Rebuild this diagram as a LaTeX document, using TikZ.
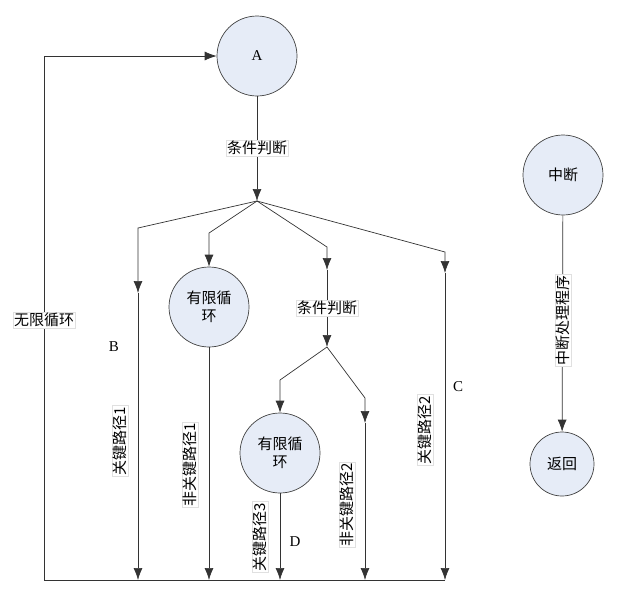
\documentclass[tikz,border=0pt]{standalone}
\usepackage{fontspec}
\setmainfont{Liberation Serif}
\newfontfamily\cjk{Noto Sans CJK SC}
\usepackage{xcolor}
\usetikzlibrary{arrows.meta}
\definecolor{cfill}{HTML}{E6ECF7}
\tikzset{
    CC1/.style ={circle,minimum size = 80pt, inner sep=0pt, draw=black!75, fill=cfill, align=center},
    CC2/.style ={circle,minimum size = 64pt, inner sep=0pt, draw=black!75, fill=cfill},
    LB1/.style ={rectangle, fill=white, draw=black!12, inner sep=1pt},
    LB2/.style ={LB1, rotate=90},
    AR1/.style ={-{Latex[length=12pt,width=9pt]}}
}
\begin{document}
\begin{tikzpicture}
        [x=1pt,y=-1pt,line width=0.7pt,draw=black!80,
        every node/.style={font=\cjk\fontsize{15}{18}\selectfont}]
        \useasboundingbox (0,0) rectangle (620,600);
        % nodes
        \node[CC1] (A) at (257,56) {\rmfamily A};
        \node[CC1] (L1) at (209,307) {有限循\\环};
        \node[CC1] (L2) at (280,453) {有限循\\环};
        \node[CC1] (IR) at (563,175) {中断};
        \node[CC2] (RT) at (562,464) {返回};
        % split points and bends
        \coordinate (s1) at (257,201);
        \coordinate (s2) at (327,347);
        \coordinate (bB) at (138,228);
        \coordinate (mB) at (138,293);
        \coordinate (b1) at (209,233);
        \coordinate (b3) at (327,247);
        \coordinate (m3) at (327,270);
        \coordinate (bC) at (445,252);
        \coordinate (mC) at (445,273);
        \coordinate (b2) at (280,380);
        \coordinate (b4) at (365,398);
        \coordinate (m4) at (365,423);
        % bottom ends
        \coordinate (eL) at (44,580);
        \coordinate (eB) at (138,580);
        \coordinate (e1) at (209,580);
        \coordinate (e2) at (280,580);
        \coordinate (e4) at (365,580);
        \coordinate (eC) at (445,580);
        % connectors
        \draw[AR1] (A) -- (s1);
        \draw[AR1] (s1) -- (bB) -- (mB);
        \draw[AR1] (mB) -- (eB);
        \draw[AR1] (s1) -- (b1) -- (L1);
        \draw[AR1] (L1) -- (e1);
        \draw[AR1] (s1) -- (b3) -- (m3);
        \draw[AR1] (m3) -- (s2);
        \draw[AR1] (s1) -- (bC) -- (mC);
        \draw[AR1] (mC) -- (eC);
        \draw[AR1] (s2) -- (b2) -- (L2);
        \draw[AR1] (L2) -- (e2);
        \draw[AR1] (s2) -- (b4) -- (m4);
        \draw[AR1] (m4) -- (e4);
        \draw[AR1] (eC) -- (eL) |- (A);
        \draw[AR1] (IR) -- (RT);
        % labels
        \node[LB1] (c1) at (257,148) {条件判断};
        \node[LB1] (c2) at (327,308) {条件判断};
        \node[LB1] (lp) at (44,320) {无限循环};
        \node[LB2] (k1) at (120,441) {关键路径1};
        \node[LB2] (n1) at (190,465) {非关键路径1};
        \node[LB2] (k3) at (260,537) {关键路径3};
        \node[LB2] (n2) at (347,505) {非关键路径2};
        \node[LB2] (k2) at (425,430) {关键路径2};
        \node[LB2] (ip) at (563,320) {中断处理程序};
        \node (lB) at (114,347) {\rmfamily B};
        \node (lC) at (458,387) {\rmfamily C};
        \node (lD) at (295,542) {\rmfamily D};
        \end{tikzpicture}
\end{document}
